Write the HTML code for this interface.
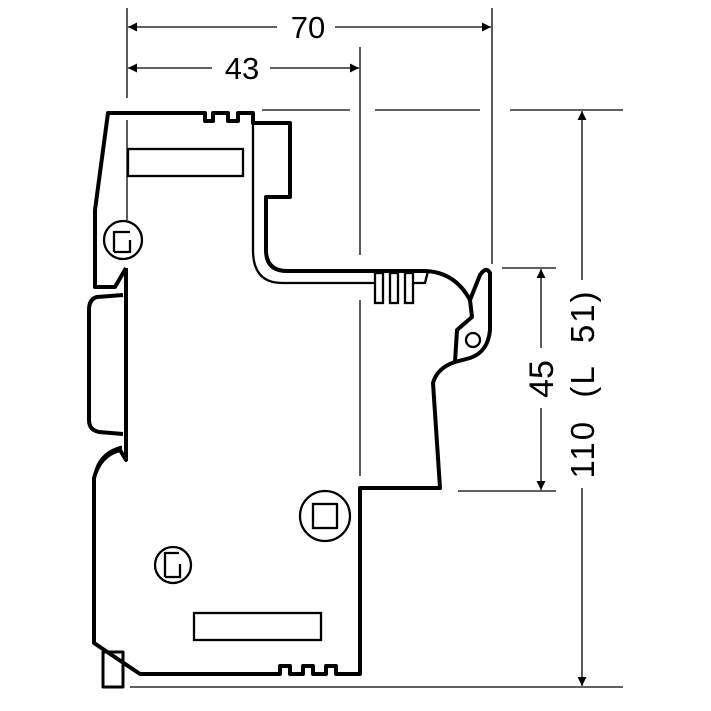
<!DOCTYPE html>
<html><head><meta charset="utf-8"><style>html,body{margin:0;padding:0;background:#fff}svg{display:block}</style></head>
<body>
<svg width="711" height="711" viewBox="0 0 711 711" xmlns="http://www.w3.org/2000/svg" font-family="Liberation Sans, sans-serif">
<defs><marker id="a" viewBox="0 0 10 10" refX="10" refY="5" markerWidth="22" markerHeight="9" markerUnits="userSpaceOnUse" orient="auto-start-reverse"><path d="M0,0L10,5L0,10z" fill="#000"/></marker></defs>
<g stroke="#000" stroke-width="1.3" fill="none">
<line x1="127" y1="8" x2="127" y2="98"/>
<line x1="360" y1="47" x2="360" y2="255"/>
<line x1="360" y1="300" x2="360" y2="476"/>
<line x1="492" y1="8" x2="492" y2="264"/>
<line x1="128" y1="27" x2="277" y2="27" marker-start="url(#a)"/>
<line x1="335" y1="27" x2="491" y2="27" marker-end="url(#a)"/>
<line x1="128" y1="68" x2="212" y2="68" marker-start="url(#a)"/>
<line x1="270" y1="68" x2="359" y2="68" marker-end="url(#a)"/>
<line x1="262" y1="110" x2="350" y2="110"/>
<line x1="375" y1="110" x2="480" y2="110"/>
<line x1="510" y1="110" x2="623" y2="110"/>
<line x1="502" y1="268" x2="556" y2="268"/>
<line x1="458" y1="491" x2="556" y2="491"/>
<line x1="130" y1="687" x2="623" y2="687"/>
<line x1="582" y1="111" x2="582" y2="280" marker-start="url(#a)"/>
<line x1="582" y1="488" x2="582" y2="686" marker-end="url(#a)"/>
<line x1="541" y1="269" x2="541" y2="348" marker-start="url(#a)"/>
<line x1="541" y1="408" x2="541" y2="490" marker-end="url(#a)"/>
<line x1="127" y1="120" x2="127" y2="220"/>
</g>
<g font-size="31" fill="#000">
<text x="308" y="38" text-anchor="middle">70</text>
<text x="242" y="79" text-anchor="middle">43</text>
<text transform="translate(553,379) rotate(-90)" text-anchor="middle" font-size="34">45</text>
<text transform="translate(594,384) rotate(-90)" text-anchor="middle" font-size="33" letter-spacing="2" xml:space="preserve">110  (L  51)</text>
</g>
<g stroke="#000" stroke-width="4" fill="none" stroke-linejoin="round">
<path d="M126,268 L115,287 L95,287 L95,210 L108,113 L205,113 L205,121 L213,121 L213,113 L228,113 L228,121 L238,121 L238,113 L253,113 L253,123 L290,123 L290,197 L266,197 L266,250 Q266,271 287,271 L425,271 Q455,272 470,300"/>
<path d="M470,300 L480,275 Q486,266 490,273 L490,330 Q488,352 470,358 L455,362 Q437,368 433,383 L440,488 L360,488 L360,674 L336,674 L336,666 L326,666 L326,674 L313,674 L313,666 L303,666 L303,674 L290,674 L290,666 L280,666 L280,674 L140,674 L94,643 L94,478 Q100,455 120,450 L126,460 L126,268"/>
<path d="M470,300 L472,317 L457,330 L455,362"/>
<path d="M123,295 L97,297 Q89,299 89,310 L89,420 Q89,430 99,432 L123,434"/>
<path d="M96,470 Q102,452 122,447" stroke-width="3"/>
<rect x="103" y="652" width="20" height="35" stroke-width="3"/>
</g>
<g stroke="#000" stroke-width="2.3" fill="none">
<path d="M253,123 L253,250 Q253,283 282,283 L375,283"/>
<rect x="375" y="273" width="8" height="30"/><rect x="390" y="273" width="8" height="30"/><rect x="405" y="273" width="8" height="30"/>
<path d="M413,283 L425,283 L428,271"/>
<rect x="128" y="149" width="115" height="27"/>
<rect x="194" y="613" width="127" height="27"/>
<circle cx="123" cy="240" r="19"/>
<path d="M114,252 L114,232 L130,232 M130,240 L130,252 L114,252"/>
<circle cx="173" cy="565" r="18"/>
<path d="M165,577 L165,553 L179,553 M180,564 L180,577 L165,577"/>
<circle cx="325" cy="516" r="25"/>
<rect x="313" y="504" width="24" height="24"/>
<circle cx="473" cy="340" r="7"/>
</g>
</svg>
</body></html>
